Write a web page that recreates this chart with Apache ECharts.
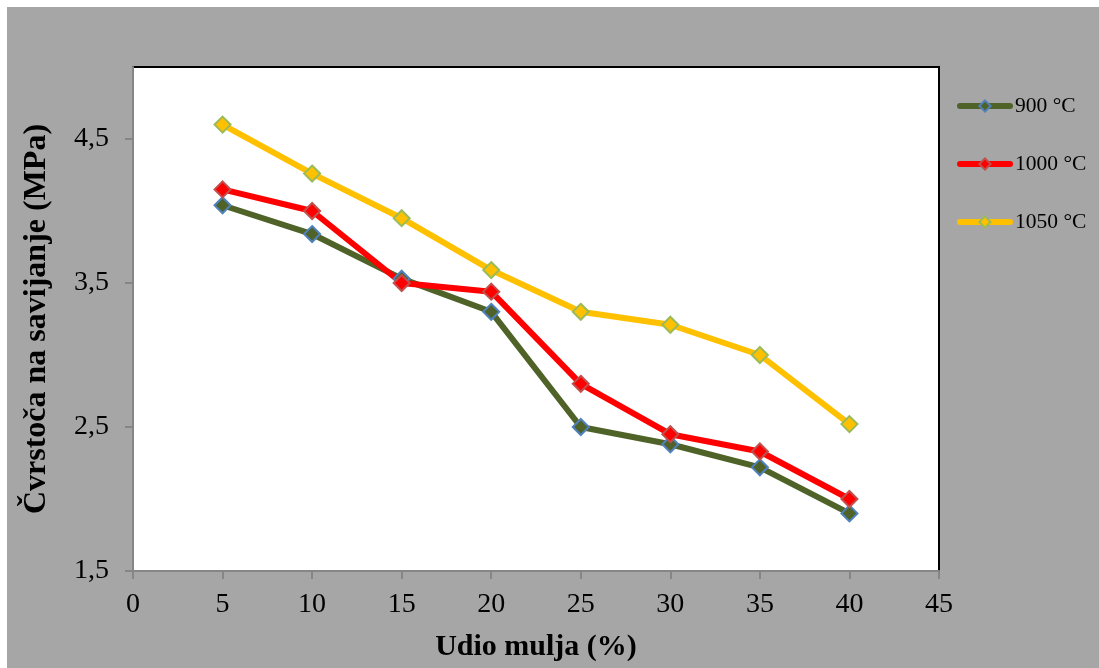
<!DOCTYPE html>
<html>
<head>
<meta charset="utf-8">
<script src="https://cdn.jsdelivr.net/npm/echarts@6/dist/echarts.min.js"></script>
<style>
html,body{margin:0;padding:0;background:#fff;}
#chart{width:1099px;height:668px;}
</style>
</head>
<body>
<div id="chart"></div>
<script>
// Data
var xValues = [5, 10, 15, 20, 25, 30, 35, 40];
var s900 = [4.04, 3.84, 3.53, 3.30, 2.50, 2.38, 2.22, 1.90];
var s1000 = [4.15, 4.00, 3.50, 3.44, 2.80, 2.45, 2.33, 2.00];
var s1050 = [4.60, 4.26, 3.95, 3.59, 3.30, 3.21, 3.00, 2.52];
var seriesNames = ['900 °C', '1000 °C', '1050 °C'];
var yTickValues = [1.5, 2.5, 3.5, 4.5];
var xTitle = 'Udio mulja (%)';
var yTitle = 'Čvrstoča na savijanje (MPa)';

function pairs(ys){ return xValues.map(function(x,i){ return [x, ys[i]]; }); }

var FONT = '"Liberation Serif", "Times New Roman", serif';
var chart = echarts.init(document.getElementById('chart'));

function mkSeries(name, data, lineColor, fill, border){
  return {
    name: name, type: 'line', data: pairs(data),
    symbol: 'diamond', symbolSize: 16,
    lineStyle: {color: lineColor, width: 6},
    itemStyle: {color: fill, borderColor: border, borderWidth: 2},
    emphasis: {disabled: true},
    z: 3
  };
}

chart.setOption({
  animation: false,
  backgroundColor: '#ffffff',
  graphic: [{
    type: 'rect', left: 7, top: 7, z: -100, silent: true,
    shape: {x: 0, y: 0, width: 1092, height: 661},
    style: {fill: '#a6a6a6'}
  }],
  grid: {
    left: 133, right: 160, top: 67, bottom: 97,
    show: true, backgroundColor: '#ffffff', borderColor: '#000000', borderWidth: 2
  },
  legend: {
    orient: 'vertical', left: 952, top: 90,
    itemWidth: 50, itemHeight: 14, itemGap: 36,
    data: seriesNames,
    lineStyle: {width: 6, cap: 'round'},
    textStyle: {fontFamily: FONT, fontSize: 21.5, color: '#000'}
  },
  xAxis: {
    type: 'value', min: 0, max: 45, interval: 5,
    name: xTitle, nameLocation: 'middle', nameGap: 61,
    nameTextStyle: {fontFamily: FONT, fontSize: 30, fontWeight: 'bold', color: '#000'},
    axisLine: {show: true, onZero: false, lineStyle: {color: '#868686', width: 2}},
    axisTick: {show: true, inside: false, length: 8, lineStyle: {color: '#868686', width: 2}},
    axisLabel: {fontFamily: FONT, fontSize: 28, color: '#000', margin: 20},
    splitLine: {show: false}
  },
  yAxis: {
    type: 'value', min: 1.5, max: 5,
    name: yTitle, nameLocation: 'middle', nameGap: 80, nameRotate: 90,
    nameTextStyle: {fontFamily: FONT, fontSize: 32, fontWeight: 'bold', color: '#000'},
    axisLine: {show: true, onZero: false, lineStyle: {color: '#868686', width: 2}},
    axisTick: {show: true, inside: false, length: 8, customValues: yTickValues, lineStyle: {color: '#868686', width: 2}},
    axisLabel: {fontFamily: FONT, fontSize: 28, color: '#000', margin: 24, customValues: yTickValues,
      formatter: function(v){ return v.toFixed(1).replace('.', ','); }},
    splitLine: {show: false}
  },
  series: [
    mkSeries(seriesNames[0], s900, '#4f6228', '#4f6228', '#4f81bd'),
    mkSeries(seriesNames[1], s1000, '#ff0000', '#ff0000', '#c0504d'),
    mkSeries(seriesNames[2], s1050, '#ffc000', '#ffc000', '#9bbb59')
  ]
});
</script>
</body>
</html>
